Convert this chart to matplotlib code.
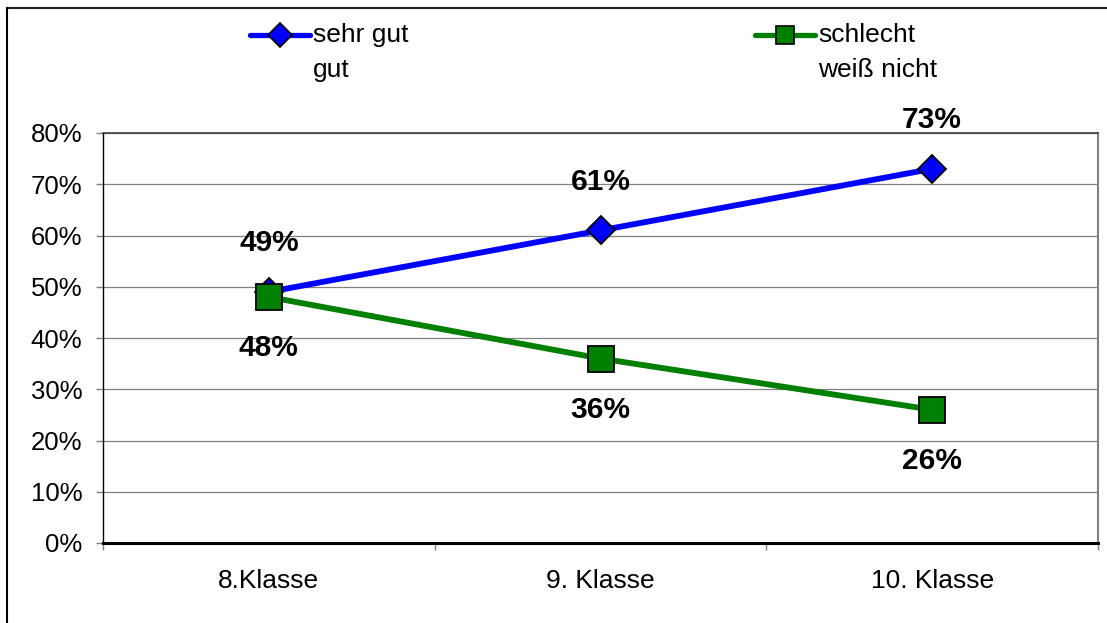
import matplotlib.pyplot as plt
from matplotlib.lines import Line2D
from matplotlib.ticker import FuncFormatter

plt.rcParams['font.family'] = ['Liberation Sans', 'DejaVu Sans']

# Daten
klassen = ['8.Klasse', '9. Klasse', '10. Klasse']
gut = [49, 61, 73]        # sehr gut / gut
schlecht = [48, 36, 26]   # schlecht / weiß nicht
legende = [['sehr gut', 'gut'], ['schlecht', 'weiß nicht']]
yticks = [0, 10, 20, 30, 40, 50, 60, 70, 80]

W, H = 1107, 623
fig = plt.figure(figsize=(W / 100, H / 100), dpi=100)
ax = fig.add_axes([103 / W, 1 - 543 / H, (1098 - 103) / W, (543 - 133) / H])

x = list(range(len(klassen)))
l1, = ax.plot(x, gut, color='#0000FF', lw=4.2, marker='D', ms=14.5,
              mfc='#0000FF', mec='black', mew=1.3, zorder=3)
l2, = ax.plot(x, schlecht, color='#008000', lw=4.2, marker='s', ms=19,
              mfc='#008000', mec='black', mew=1.3, zorder=4)

# Datenbeschriftungen
for i, v in enumerate(gut):
    ax.annotate('%d%%' % v, (i, v), xytext=(0, 35), textcoords='offset points',
                ha='center', va='center', fontsize=21.5, fontweight='bold')
for i, v in enumerate(schlecht):
    ax.annotate('%d%%' % v, (i, v), xytext=(0, -37), textcoords='offset points',
                ha='center', va='center', fontsize=21.5, fontweight='bold')

ax.set_xlim(-0.5, 2.5)
ax.set_ylim(0, 80)
ax.set_yticks(yticks)
ax.yaxis.set_major_formatter(FuncFormatter(lambda v, p: '%d%%' % v))
ax.set_xticks(x)
ax.set_xticklabels(klassen)
ax.set_xticks([-0.5, 0.5, 1.5, 2.5], minor=True)
ax.tick_params(axis='x', which='major', length=0, labelsize=19, pad=19)
ax.tick_params(axis='x', which='minor', length=5, width=1, color='#808080', direction='out')
ax.tick_params(axis='y', length=5, width=1, color='#808080', direction='out', labelsize=18.5, pad=10)

ax.grid(axis='y', color='#808080', lw=0.9)
ax.set_axisbelow(True)
ax.spines['left'].set_color('black')
ax.spines['left'].set_linewidth(1)
ax.spines['bottom'].set_color('black')
ax.spines['bottom'].set_linewidth(2.2)
ax.spines['top'].set_color('#404040')
ax.spines['top'].set_linewidth(1.2)
ax.spines['right'].set_color('#808080')
ax.spines['right'].set_linewidth(1.5)

# Legende (zweizeilige Beschriftung, Symbol an erster Zeile)
for line, lab, x0, ms in [(l1, legende[0], 250, 12), (l2, legende[1], 755, 12.5)]:
    y0 = 1 - 35 / H
    fig.add_artist(Line2D([x0 / W, (x0 + 60) / W], [y0, y0], color=line.get_color(), lw=3.8,
                          solid_capstyle='round'))
    fig.add_artist(Line2D([(x0 + 30) / W], [y0], marker=line.get_marker(), ms=ms,
                          mfc=line.get_markerfacecolor(), mec='black', mew=1.2, lw=0))
    fig.text((x0 + 63) / W, y0, lab[0], fontsize=19, va='center', ha='left')
    fig.text((x0 + 63) / W, 1 - 70 / H, lab[1], fontsize=19, va='center', ha='left')

# Rahmen (nur oben und links sichtbar)
top = 1 - 8 / H
left = 7 / W
fig.add_artist(Line2D([left, 1.0], [top, top], color='#202020', lw=1.5))
fig.add_artist(Line2D([left, left], [0.0, top], color='black', lw=1.5))

fig.savefig('out.png', dpi=100)
